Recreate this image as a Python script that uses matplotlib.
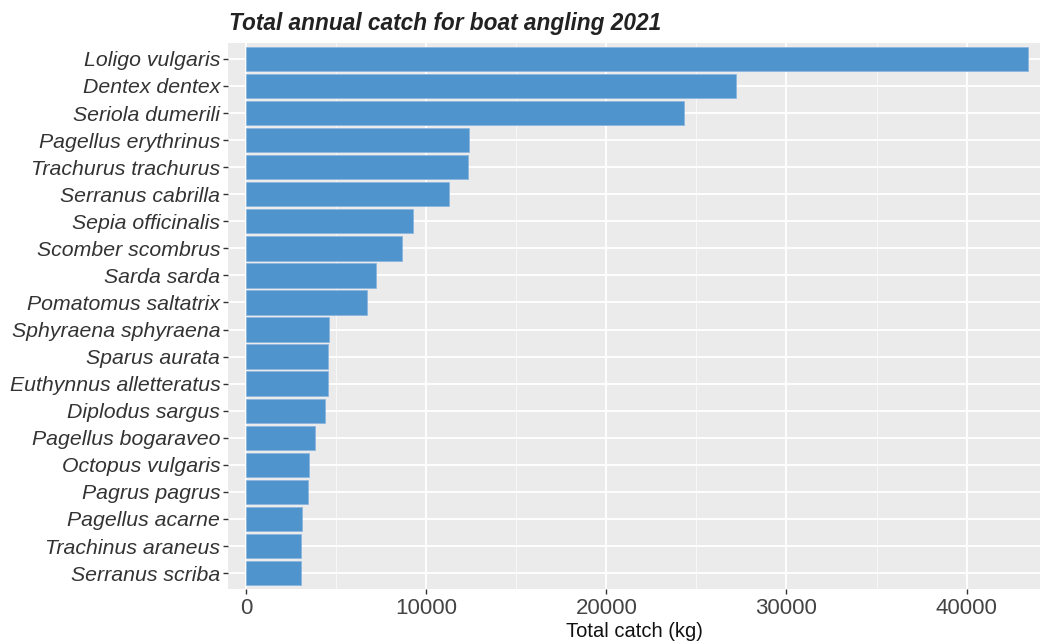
import matplotlib
matplotlib.use("Agg")
import matplotlib.pyplot as plt
from matplotlib.ticker import MultipleLocator

# Species, ordered from largest to smallest catch
species = [
    "Loligo vulgaris", "Dentex dentex", "Seriola dumerili", "Pagellus erythrinus",
    "Trachurus trachurus", "Serranus cabrilla", "Sepia officinalis", "Scomber scombrus",
    "Sarda sarda", "Pomatomus saltatrix", "Sphyraena sphyraena", "Sparus aurata",
    "Euthynnus alletteratus", "Diplodus sargus", "Pagellus bogaraveo", "Octopus vulgaris",
    "Pagrus pagrus", "Pagellus acarne", "Trachinus araneus", "Serranus scriba",
]
catch_kg = [
    43430, 27190, 24320, 12370, 12300, 11230, 9270, 8670, 7220, 6720,
    4570, 4520, 4520, 4390, 3800, 3480, 3450, 3090, 3020, 3020,
]

bar_color = "#4F94CD"
panel_bg = "#EBEBEB"

fig = plt.figure(figsize=(10.4, 6.42), dpi=100)
ax = fig.add_axes([228 / 1040, (642 - 589.3) / 642, 1 - 228 / 1040, (589.3 - 42.7) / 642])
ax.set_facecolor(panel_bg)

n = len(species)
ypos = list(range(n - 1, -1, -1))
ax.barh(ypos, catch_kg, height=0.9, color=bar_color, edgecolor="#8DB6DE",
        linewidth=0.6, zorder=3)

ax.set_xlim(-1020, 44080)
ax.set_ylim(-0.6, n - 0.4)

ax.xaxis.set_major_locator(MultipleLocator(10000))
ax.xaxis.set_minor_locator(MultipleLocator(5000))
ax.set_yticks(ypos)
ax.set_yticklabels(species, fontstyle="italic", fontsize=15.3, color="#222222",
                   family="Liberation Sans")
for lbl in ax.get_xticklabels():
    lbl.set_family("Liberation Sans")
ax.tick_params(axis="x", labelsize=16, colors="#333333", labelcolor="#444444",
               length=3.5, width=1, pad=3)
ax.tick_params(axis="y", colors="#333333", length=3.5, width=1, pad=2)
ax.tick_params(axis="x", which="minor", length=0)

ax.grid(which="major", axis="both", color="white", linewidth=1.3, zorder=0)
ax.grid(which="minor", axis="x", color="#F7F7F7", linewidth=0.8, zorder=0)
ax.set_axisbelow(True)
for s in ax.spines.values():
    s.set_visible(False)

ax.set_xlabel("Total catch (kg)", fontsize=14.5, family="Liberation Sans",
              color="#111111", labelpad=2)

fig.text(229 / 1040, (642 - 30) / 642, "Total annual catch for boat angling 2021",
         fontsize=16.3, fontweight="bold", fontstyle="italic",
         family="Liberation Sans", color="#222222", ha="left", va="baseline")

fig.savefig("out.png", dpi=100)
